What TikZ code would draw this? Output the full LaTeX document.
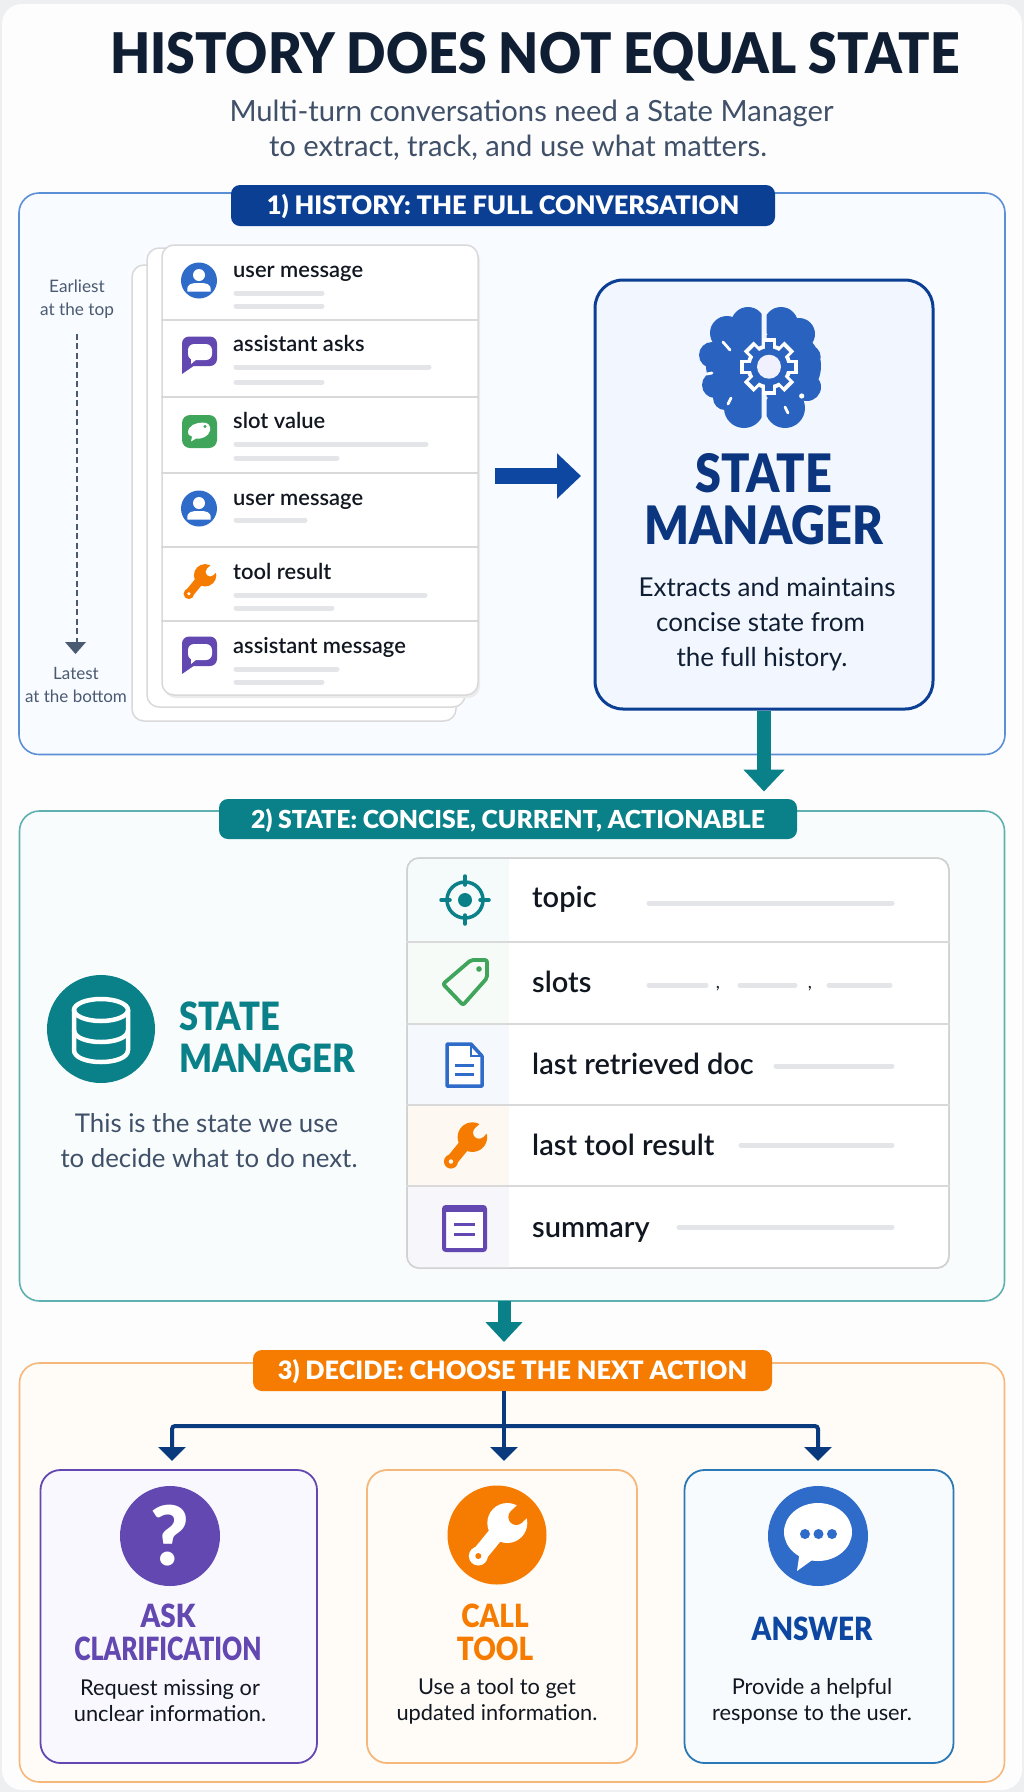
\documentclass[tikz,border=0pt]{standalone}
\usepackage{fontspec}
\setmainfont{Lato}
\newfontfamily\blk{Lato Black}
\newfontfamily\blktitle[FakeStretch=0.925]{Lato Black}
\newfontfamily\blksm[FakeStretch=0.885]{Lato Black}
\newfontfamily\blkact[FakeStretch=0.87]{Lato Black}
\newfontfamily\blkclar[FakeStretch=0.775]{Lato Black}
\newfontfamily\semi{Lato Semibold}
\usetikzlibrary{arrows.meta}
\definecolor{navy}{HTML}{0B3F94}
\definecolor{navyt}{HTML}{0B357E}
\definecolor{navyd}{HTML}{0A3A7E}
\definecolor{titlec}{HTML}{0F1E33}
\definecolor{subc}{HTML}{3F5068}
\definecolor{bluea}{HTML}{0D47A1}
\definecolor{blueb}{HTML}{2F6BC9}
\definecolor{brainc}{HTML}{2A62BF}
\definecolor{teal}{HTML}{0A8088}
\definecolor{orange}{HTML}{F57C00}
\definecolor{purple}{HTML}{6248B0}
\definecolor{greenc}{HTML}{3FA55B}
\definecolor{slate}{HTML}{4A5A70}
\definecolor{barc}{HTML}{E3E5E8}
\definecolor{ink}{HTML}{111720}
\definecolor{panelaf}{HTML}{F8FBFF}
\definecolor{panelbf}{HTML}{F8FCFC}
\definecolor{panelcf}{HTML}{FFFCF8}
\definecolor{panelas}{HTML}{5B8FD6}
\definecolor{panelbs}{HTML}{5FB0B0}
\definecolor{panelcs}{HTML}{F5B77A}
\definecolor{smfill}{HTML}{F2F6FE}
\definecolor{cardAf}{HTML}{F9F8FE}
\definecolor{cardCf}{HTML}{F7FBFE}
\definecolor{cardCs}{HTML}{2A78B5}
\definecolor{pagebg}{HTML}{FDFDFE}
\definecolor{pageout}{HTML}{EEEFF1}
\newcommand{\captext}[2]{\raisebox{-#1pt}[0pt][0pt]{#2}}
\tikzset{
 x=1pt,y=-1pt,
 panelbox/.style={draw,line width=1.6pt,rounded corners=20pt,inner sep=0pt},
 tabbox/.style={rounded corners=9pt,inner sep=0pt,text=white},
 cardbox/.style={draw=#1,line width=1.5pt,rounded corners=12pt,fill=white,inner sep=0pt},
 msg/.style={anchor=base west,inner sep=0pt,text=ink,font=\fontsize{21.9}{25}\selectfont\semi},
 rowlab/.style={anchor=base west,inner sep=0pt,text=ink,font=\fontsize{29}{32}\selectfont\semi},
 bar/.style={line width=5pt,line cap=round,draw=barc},
 bodytxt/.style={inner sep=0pt,align=center},
 optbox/.style={draw=#1,line width=1.8pt,rounded corners=20pt,inner sep=0pt},
 acttitle/.style={inner sep=0pt,align=center,text=#1,font=\fontsize{32}{33}\selectfont\blkact},
 actdesc/.style={inner sep=0pt,align=center,text=ink,font=\fontsize{21.8}{26}\selectfont},
 treearrow/.style={draw=navyd,line width=4pt,-{Triangle[length=14pt,width=27pt]}},
}
% wrench: args fg, bg; spans about -30..30
\newcommand{\wrenchicon}[2]{%
 \fill[#1] (-13,26.2) -- (-25,15.8) -- (2,-17.2) -- (14,-6.8) -- cycle;
 \fill[#1] (-19,21) circle[radius=9.5];
 \fill[#1] (10,-12) circle[radius=20];
 \fill[#2] (19,-18) circle[radius=8];
 \fill[#2] (24.5,-12.2) -- (13.5,-23.8) -- (28,-37.6) -- (39,-26) -- cycle;
 \fill[#2] (-19,21) circle[radius=3];
}
\newcommand{\personicon}{%
 \fill[blueb] (0,0) circle[radius=18];
 \fill[white] (0,-5.5) circle[radius=6];
 \fill[white] (-11.5,11) .. controls (-13,2.5) and (-6,2.5) .. (0,2.5) .. controls (6,2.5) and (13,2.5) .. (11.5,11) -- cycle;
}
\newcommand{\bubbleicon}{%
 \fill[purple,rounded corners=7pt] (-17,-18.5) rectangle (18,11);
 \fill[purple] (-17,-5) -- (-17,19) -- (-4,10) -- cycle;
 \fill[white,rounded corners=6pt] (-11,-11) rectangle (13,5);
 \fill[white] (-8,2) -- (-8,9) -- (-2,4) -- cycle;
}
\newcommand{\greenicon}{%
 \fill[greenc,rounded corners=8pt] (-17,-16.5) rectangle (18,16.5);
 \fill[white] (-11,1) .. controls (-11,-6) and (-3,-9) .. (4,-9) .. controls (9,-9) and (12,-6) .. (11,-1) .. controls (10,5) and (2,8) .. (-3,7) -- (-8,10) -- (-7,5) .. controls (-10,4) and (-11,3) .. (-11,1) -- cycle;
 \fill[greenc] (6,-5) circle[radius=1.6];
}
\begin{document}
\begin{tikzpicture}
\useasboundingbox (0,0) rectangle (1024,1792);
\fill[pageout] (0,0) rectangle (1024,1792);
\fill[pagebg,rounded corners=20pt] (2,4) rectangle (1022,1790);

% Title
\node[inner sep=0pt,text=titlec,font=\fontsize{56}{60}\selectfont\blktitle] (title) at (535,53.5) {\captext{20}{HISTORY DOES NOT EQUAL STATE}};
\node[bodytxt,text=subc,font=\fontsize{29.2}{35}\selectfont] (subtitle) at (531.5,130) {Multi-turn conversations need a State Manager\\to extract, track, and use what matters.\kern27pt};

% Panel 1
\node[panelbox,draw=panelas,fill=panelaf,minimum width=986pt,minimum height=561.5pt] (panela) at (512,473.75) {};
\node[tabbox,fill=navy,minimum width=544pt,minimum height=41pt,font=\fontsize{25.5}{30}\selectfont\blk] (taba) at (503,205.5) {\captext{9.1}{1) HISTORY: THE FULL CONVERSATION}};

% order note
\node[bodytxt,text=slate,font=\fontsize{17.2}{23}\selectfont] (early) at (77,299) {Earliest\\at the top};
\node[bodytxt,text=slate,font=\fontsize{17}{23}\selectfont] (late) at (76,685) {Latest\\at the bottom};
\draw[draw=slate,line width=1.8pt,dashed,dash pattern=on 6pt off 3.5pt] (early.south) ++(0,15) coordinate (orda) -- (orda |- 0,645) coordinate (ordb);
\fill[slate] (65,642) -- (86,642) -- (75.5,654) -- cycle;

% Stack
\node[cardbox=black!15,fill=white,minimum width=324pt,minimum height=456pt] (stackc) at (294,493) {};
\node[cardbox=black!15,fill=white,minimum width=318pt,minimum height=459pt] (stackb) at (306,477.5) {};
\fill[black!8,rounded corners=12pt] (164,248) rectangle (480,698);
\node[cardbox=black!15,fill=white,minimum width=316pt,minimum height=450pt] (stacka) at (320,470) {};
\foreach \yy in {320,397,473,547,621}
  \draw[black!15,line width=1.5pt] (stacka.west |- 0,\yy) -- (stacka.east |- 0,\yy);

\begin{scope}[shift={(199,280.5)}]\personicon\end{scope}
\begin{scope}[shift={(199,355)}]\bubbleicon\end{scope}
\begin{scope}[shift={(199,431.5)}]\greenicon\end{scope}
\begin{scope}[shift={(199,508.5)}]\personicon\end{scope}
\begin{scope}[shift={(199.5,582)},scale=0.56]\wrenchicon{orange}{white}\end{scope}
\begin{scope}[shift={(199,655)}]\bubbleicon\end{scope}

\node[msg] (m1) at (233,277) {user message};
\node[msg] (m2) at (233,351) {assistant asks};
\node[msg] (m3) at (233,428) {slot value};
\node[msg] (m4) at (233,505) {user message};
\node[msg] (m5) at (233,579.5) {tool result};
\node[msg] (m6) at (233,653.5) {assistant message};
\draw[bar] (236,293) -- (322,293); \draw[bar] (236,306) -- (322,306);
\draw[bar] (236,367) -- (429,367); \draw[bar] (236,382) -- (322,382);
\draw[bar] (236,444) -- (426,444); \draw[bar] (236,458) -- (337,458);
\draw[bar] (236,520) -- (305,520);
\draw[bar] (236,595) -- (425,595); \draw[bar] (236,608) -- (332,608);
\draw[bar] (236,669) -- (337,669); \draw[bar] (236,682) -- (322,682);

% State manager box
\node[draw=navy,line width=3pt,rounded corners=28pt,fill=smfill,inner sep=0pt,minimum width=338pt,minimum height=429pt] (smgr) at (764,494.5) {};

% history -> manager arrow
\coordinate (arrstart) at (495,476);
\draw[draw=bluea,line width=16pt,-{Triangle[length=24pt,width=44pt]}] (arrstart) -- (581,476);

% brain
\begin{scope}
 \clip (690,300) rectangle (761.7,435);
 \fill[brainc] (748,324) circle[radius=17] (727,333) circle[radius=17] (712,355) circle[radius=13] (715,385) circle[radius=13] (744,408) circle[radius=20] (746,365) circle[radius=40] (725,398) circle[radius=12];
\end{scope}
\begin{scope}
 \clip (766.7,300) rectangle (830,435);
 \fill[brainc] (781,324) circle[radius=17] (799,334) circle[radius=16] (808.7,357) circle[radius=12] (807,387) circle[radius=14] (785,408) circle[radius=20] (785,366) circle[radius=36];
\end{scope}
\foreach \aa in {0,45,...,315}
  \fill[white,rotate around={\aa:(769,366.7)}] (762,338) rectangle (776,350);
\fill[white] (769,366.7) circle[radius=22.5];
\foreach \aa in {0,45,...,315}
  \fill[brainc,rotate around={\aa:(769,366.7)}] (765,342) rectangle (773,352);
\fill[brainc] (769,366.7) circle[radius=18.5];
\fill[white!94!blue] (769,366.7) circle[radius=12];
\draw[white,line width=2.8pt,line cap=round] (723,342) -- (730,350) (707,374) -- (712,373) (731,398) -- (728,404) (785,407) -- (788,413);
\fill[white] (801.7,396) circle[radius=2.6];

\node[bodytxt,text=navyt,font=\fontsize{53}{52.5}\selectfont\blksm] (smtitle) at (763.5,499) {STATE\\MANAGER};
\node[bodytxt,text=titlec,font=\fontsize{26}{35}\selectfont] (smdesc) at (767,624) {Extracts and maintains\\concise state from\kern13pt\\the full history.\kern10pt};

% Panel 2
\node[panelbox,draw=panelbs,fill=panelbf,minimum width=985pt,minimum height=490pt] (panelb) at (512,1056) {};
\draw[draw=teal,line width=14pt,-{Triangle[length=22pt,width=40pt]},shorten >=7.5pt] (smgr.south) -- (smgr.south |- 0,799) coordinate (stateentry);
\node[tabbox,fill=teal,minimum width=578pt,minimum height=40pt,font=\fontsize{24.8}{30}\selectfont\blk] (tabb) at (508,819) {\captext{9}{2) STATE: CONCISE, CURRENT, ACTIONABLE}};

\fill[teal] (101,1029) circle[radius=54];
\node[minimum size=108pt,inner sep=0pt,circle] (dbcircle) at (101,1029) {};
\begin{scope}[draw=white,line width=4.5pt]
 \draw (101,1010) ellipse [x radius=27,y radius=11];
 \draw (74,1010) -- (74,1050) .. controls (74,1066) and (128,1066) .. (128,1050) -- (128,1010);
 \draw (74,1030) .. controls (74,1046) and (128,1046) .. (128,1030);
\end{scope}
\node[bodytxt,anchor=west,text=teal,font=\fontsize{39}{42}\selectfont\blksm,align=left] (sm2title) at (179,1037) {STATE\\MANAGER};
\node[bodytxt,text=subc,font=\fontsize{25.8}{35}\selectfont] (sm2desc) at (209,1141) {This is the state we use\kern5pt\\to decide what to do next.};

% table
\node[cardbox=black!18,minimum width=542pt,minimum height=410pt] (tbl) at (678,1063) {};
\begin{scope}
 \clip[rounded corners=12pt] (407,858) rectangle (949,1268);
 \fill[teal!4] (407,858) rectangle (509,942);
 \fill[greenc!4] (407,942) rectangle (509,1024);
 \fill[blueb!5] (407,1024) rectangle (509,1105);
 \fill[orange!5] (407,1105) rectangle (509,1186);
 \fill[purple!5] (407,1186) rectangle (509,1268);
\end{scope}
\draw[black!18,line width=1.5pt,rounded corners=12pt] (407,858) rectangle (949,1268);
\foreach \yy in {942,1024,1105,1186}
  \draw[black!15,line width=1.6pt] (tbl.west |- 0,\yy) -- (tbl.east |- 0,\yy);
\node[rowlab] (r1) at (532,907) {topic};
\node[rowlab] (r2) at (532,992) {slots};
\node[rowlab] (r3) at (532,1074) {last retrieved doc};
\node[rowlab] (r4) at (532,1155) {last tool result};
\node[rowlab] (r5) at (532,1237) {summary};
\draw[bar] (649,903) -- (892,903);
\draw[bar] (649,985) -- (706,985); \draw[bar] (740,985) -- (795,985); \draw[bar] (829,985) -- (890,985);
\draw[bar] (776,1066) -- (892,1066);
\draw[bar] (741,1145) -- (892,1145);
\draw[bar] (679,1227) -- (892,1227);
\node[inner sep=0pt,text=ink,font=\fontsize{18}{18}\selectfont] (c1) at (718,989) {,};
\node[inner sep=0pt,text=ink,font=\fontsize{18}{18}\selectfont] (c2) at (810,989) {,};
% target
\begin{scope}[shift={(465,900)}]
 \draw[teal,line width=3.5pt] (0,0) circle[radius=18];
 \fill[teal] (0,0) circle[radius=7];
 \draw[teal,line width=3.5pt,line cap=round] (0,-24) -- (0,-15) (0,24) -- (0,15) (-24,0) -- (-15,0) (24,0) -- (15,0);
\end{scope}
% tag
\draw[greenc,line width=3.8pt,line join=round,rounded corners=2pt] (471,960) -- (487,960) -- (487,978) -- (463,1005) -- (443,984) -- cycle;
\fill[greenc] (479,969) circle[radius=2.8];
% doc
\draw[blueb,line width=3.5pt,line join=round,fill=white] (447,1044) -- (471,1044) -- (482,1056) -- (482,1086) -- (447,1086) -- cycle;
\draw[blueb,line width=2.5pt] (471,1044) -- (471,1056) -- (482,1056);
\draw[blueb,line width=3pt] (455,1065) -- (474,1065) (455,1074) -- (474,1074);
% wrench row
\begin{scope}[shift={(465,1146)},scale=0.74]\wrenchicon{orange}{orange!5}\end{scope}
% summary
\draw[purple,line width=4pt,rounded corners=2pt,fill=white] (444,1207) rectangle (485,1250);
\fill[purple] (444,1207) rectangle (485,1212);
\draw[purple,line width=3pt] (454,1224) -- (475,1224) (454,1234) -- (475,1234);

% Panel 3
\node[panelbox,draw=panelcs,fill=panelcf,minimum width=985pt,minimum height=419pt] (panelc) at (512,1572.5) {};
\coordinate (arrb) at (504,1301);
\draw[draw=teal,line width=13pt,-{Triangle[length=20pt,width=36pt]}] (arrb) -- (504,1342);
\node[tabbox,fill=orange,minimum width=519pt,minimum height=41pt,font=\fontsize{25.3}{30}\selectfont\blk] (tabc) at (512.5,1370.5) {\captext{9}{3) DECIDE: CHOOSE THE NEXT ACTION}};

% Option cards
\node[optbox=purple,fill=cardAf,minimum width=276.5pt,minimum height=293pt] (cardA) at (178.75,1616.5) {};
\node[optbox=panelcs,fill=panelcf,minimum width=270pt,minimum height=293pt] (cardB) at (502,1616.5) {};
\node[optbox=cardCs,fill=cardCf,minimum width=269pt,minimum height=293pt] (cardC) at (819,1616.5) {};

% Connectors
\coordinate (trunkstart) at (504,1391);
\coordinate (junction) at (504,1426);
\coordinate (tipA) at (172,1461);
\coordinate (tipB) at (504,1461);
\coordinate (tipC) at (818,1461);
\draw[treearrow] (trunkstart) -- (tipB);
\draw[treearrow,rounded corners=3pt] (junction) -| (tipA);
\draw[treearrow,rounded corners=3pt] (junction) -| (tipC);

% Circles
\node[circle,fill=purple,minimum size=100pt,inner sep=0pt,text=white,font=\fontsize{82}{82}\selectfont\blk] (cA) at (170,1536) {?};
\node[circle,fill=orange,minimum size=99pt,inner sep=0pt] (cB) at (497,1535) {};
\node[circle,fill=blueb,minimum size=100pt,inner sep=0pt] (cC) at (818,1536) {};
\begin{scope}[shift={(497.3,1535)}]\wrenchicon{white}{orange}\end{scope}
\fill[white] (818,1532) ellipse [x radius=34,y radius=29];
\fill[white] (800,1550) -- (797,1571) -- (815,1558) -- cycle;
\fill[blueb] (805,1534) circle[radius=5] (818.5,1534) circle[radius=5] (832,1534) circle[radius=5];

\node[acttitle=purple] (tA) at (168,1632.5) {ASK\\{\blkclar CLARIFICATION}};
\node[acttitle=orange] (tB) at (495,1632.5) {CALL\\TOOL};
\node[acttitle=bluea] (tC) at (812,1629) {ANSWER};
\node[actdesc] (dA) at (170,1701) {Request missing or\\unclear information.};
\node[actdesc] (dB) at (497,1701) {Use a tool to get\\updated information.};
\node[actdesc] (dC) at (812,1701) {Provide a helpful\\response to the user.};
\end{tikzpicture}
\end{document}
